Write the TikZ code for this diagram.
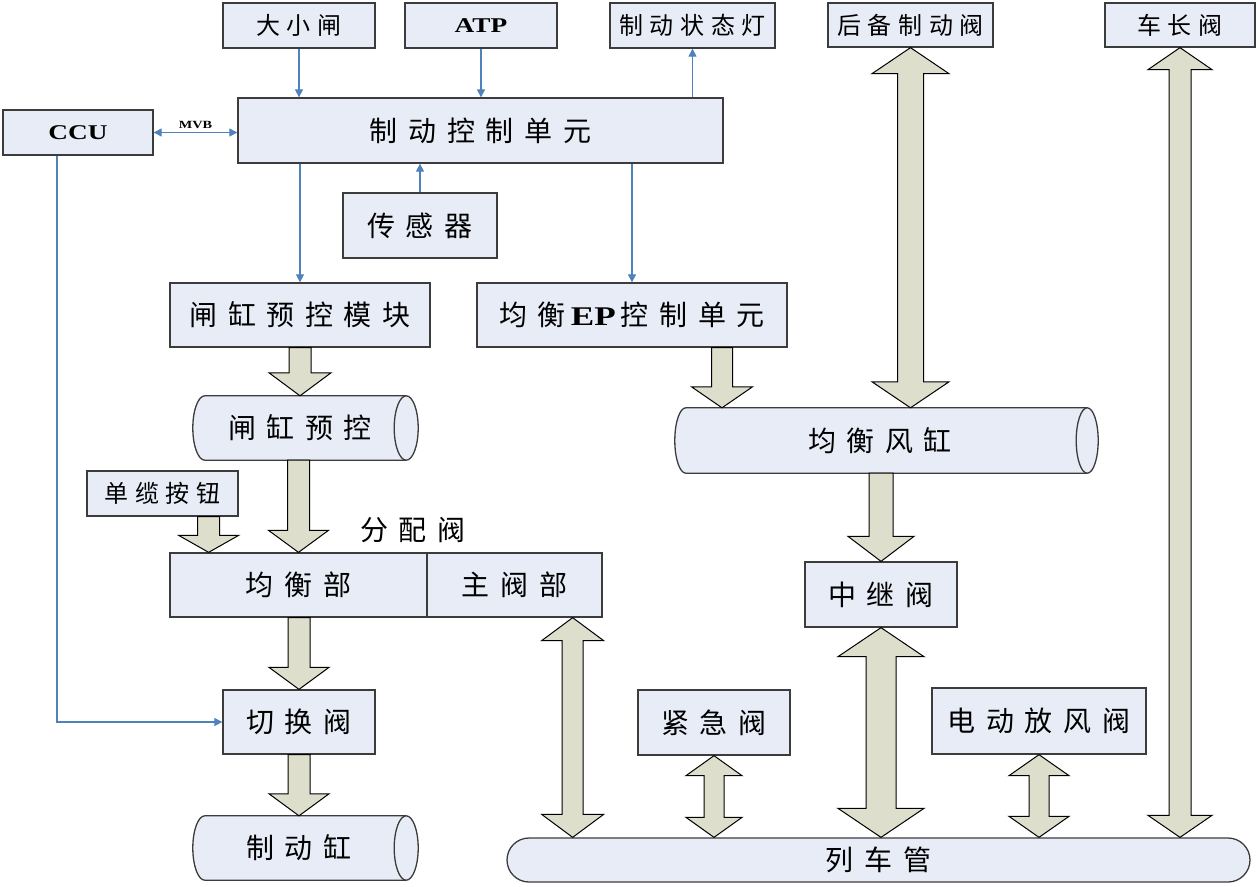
\documentclass[tikz,border=0pt]{standalone}
\usepackage{fontspec}
\usetikzlibrary{arrows.meta,calc}
\newfontfamily\cjkb{Noto Sans CJK SC}[LetterSpace=38]
\newfontfamily\cjks{Noto Sans CJK SC}[LetterSpace=28]
\newfontfamily\lat{Liberation Serif}[FakeStretch=1.3]
\newcommand\bt[1]{{\fontsize{28}{31}\selectfont\cjkb #1\hspace{-10.6pt}}}
\newcommand\st[1]{{\fontsize{24}{27}\selectfont\cjks #1\hspace{-6.7pt}}}
\newcommand\lt[2]{{\fontsize{#1}{#1}\selectfont\lat\bfseries #2}}
\definecolor{boxfill}{RGB}{231,236,246}
\definecolor{boxline}{RGB}{60,60,60}
\definecolor{arrfill}{RGB}{221,222,203}
\definecolor{lineblue}{RGB}{79,129,189}
\newcommand\sarrow[5]{%
\filldraw[blockarrow] let \p1=(#1), \p2=(#2) in
 ({\x2-#3},\y1) -- ({\x2+#3},\y1) -- ({\x2+#3},{\y2+#5}) -- ({\x2+#4},{\y2+#5}) -- (\x2,\y2) -- ({\x2-#4},{\y2+#5}) -- ({\x2-#3},{\y2+#5}) -- cycle;}
\newcommand\darrow[5]{%
\filldraw[blockarrow] let \p1=(#1), \p2=(#2) in
 (\x1,\y1) -- ({\x1+#4},{\y1-#5}) -- ({\x1+#3},{\y1-#5}) -- ({\x1+#3},{\y2+#5}) -- ({\x1+#4},{\y2+#5}) -- (\x1,\y2) -- ({\x1-#4},{\y2+#5}) -- ({\x1-#3},{\y2+#5}) -- ({\x1-#3},{\y1-#5}) -- ({\x1-#4},{\y1-#5}) -- cycle;}
% horizontal cylinder outline round a node: #1 node name, #2 x radius of the ends
\newcommand\cylout[2]{%
\filldraw[cylline] let \p1=(#1.north west), \p2=(#1.south east), \n1={(\y1-\y2)/2} in
 ({\x1+#2},\y1) -- ({\x2-#2},\y1) arc[start angle=90, end angle=-90, x radius=#2, y radius=\n1]
 -- ({\x1+#2},\y2) arc[start angle=270, end angle=90, x radius=#2, y radius=\n1] -- cycle;
\draw[cylline] let \p1=(#1.north west), \p2=(#1.south east), \n1={(\y1-\y2)/2} in
 ({\x2-#2},\y1) arc[start angle=90, end angle=270, x radius=#2, y radius=\n1];}
\begin{document}
\begin{tikzpicture}[x=1pt,y=-1pt,
  box/.style={draw=boxline, fill=boxfill, line width=1.3pt, inner sep=0pt},
  cylnode/.style={inner sep=0pt},
  cylline/.style={draw=boxline, fill=boxfill, line width=1.3pt},
  blockarrow/.style={draw=black, fill=arrfill, line width=1pt, line join=miter},
  conn/.style={draw=lineblue, line width=1.1pt, -{Triangle[length=8pt,width=8pt]}},
  lbl/.style={inner sep=1pt}]
\fill[white] (0,0) rectangle (1260,886);
\useasboundingbox (0,0) rectangle (1260,886);
% cylinders (outline first, text node on top)
\path (305.5,428) node[cylnode, minimum width=225, minimum height=64] (gp) {};
\path (305.5,848) node[cylnode, minimum width=225, minimum height=64] (zdg) {};
\path (886.5,440.5) node[cylnode, minimum width=423, minimum height=65] (jf) {};
\cylout{gp}{12pt}
\cylout{zdg}{12pt}
\cylout{jf}{11pt}
\node at (300,428) {\bt{闸缸预控}};
\node at (299,848) {\bt{制动缸}};
\node at (880,440.5) {\bt{均衡风缸}};
% boxes
\node[box, minimum width=152, minimum height=45] (dxz) at (299,25.5) {\st{大小闸}};
\node[box, minimum width=152, minimum height=45] (atp) at (481,25.5) {\lt{21}{ATP}};
\node[box, minimum width=165, minimum height=45] (zdzt) at (692.5,25.5) {\st{制动状态灯}};
\node[box, minimum width=165, minimum height=44] (hb) at (910.5,25) {\st{后备制动阀}};
\node[box, minimum width=150, minimum height=44] (cz) at (1180,25) {\st{车长阀}};
\node[box, minimum width=150, minimum height=45] (ccu) at (78,132.5) {\lt{21}{CCU}};
\node[box, minimum width=485, minimum height=65] (zk) at (480.5,130.5) {\bt{制动控制单元}};
\node[box, minimum width=154, minimum height=65] (cg) at (420,225.5) {\bt{传感器}};
\node[box, minimum width=260, minimum height=64] (yk) at (300,315) {\bt{闸缸预控模块}};
\node[box, minimum width=310, minimum height=64] (ep) at (632,315) {{\fontsize{28}{31}\selectfont\cjkb 均衡}\hspace{5pt}\lt{27}{EP}{\fontsize{28}{31}\selectfont\cjkb \hspace{5pt}控制单元\hspace{-10.6pt}}};
\node[box, minimum width=151, minimum height=45] (dl) at (162.5,493.5) {\st{单缆按钮}};
\node[lbl] (fpf) at (413,530) {\bt{分配阀}};
\node[box, minimum width=257, minimum height=64] (jb) at (298.5,585) {\bt{均衡部}};
\node[box, minimum width=175, minimum height=64] (zf) at (514.5,585) {\bt{主阀部}};
\node[box, minimum width=152, minimum height=64] (qh) at (299,722) {\bt{切换阀}};
\node[box, minimum width=152, minimum height=65] (zj) at (881,594.5) {\bt{中继阀}};
\node[box, minimum width=152, minimum height=65] (jj) at (714,722.5) {\bt{紧急阀}};
\node[box, minimum width=214, minimum height=66] (df) at (1039,721) {\bt{电动放风阀}};
\node[box, rounded corners=22pt, minimum width=743, minimum height=44] (lc) at (878.5,860) {\bt{列车管}};
% helper coordinates
\coordinate (dla) at ($(dl.south east)+(-30,0)$);
\coordinate (epa) at ($(ep.south)+(90,0)$);
\coordinate (zfa) at ($(zf.south east)+(-30,0)$);
% block arrows
\sarrow{yk.south}{yk.south |- gp.north}{11pt}{31pt}{23pt}
\sarrow{jb.north |- gp.south}{jb.north}{11pt}{30pt}{22pt}
\sarrow{dla}{dla |- jb.north}{11pt}{30pt}{17pt}
\sarrow{qh.north |- jb.south}{qh.north}{11pt}{30pt}{22pt}
\sarrow{qh.south}{qh.south |- zdg.north}{11pt}{30pt}{22pt}
\sarrow{epa}{epa |- jf.north}{10.5pt}{30.5pt}{21pt}
\sarrow{zj.north |- jf.south}{zj.north}{12pt}{33pt}{25pt}
\darrow{hb.south}{hb.south |- jf.north}{13pt}{38.5pt}{26pt}
\darrow{cz.south}{cz.south |- lc.north}{11pt}{32pt}{22pt}
\darrow{zfa}{zfa |- lc.north}{10.5pt}{31pt}{23pt}
\darrow{zj.south}{zj.south |- lc.north}{15pt}{43pt}{29pt}
\darrow{jj.south}{jj.south |- lc.north}{10pt}{28pt}{20pt}
\darrow{df.south}{df.south |- lc.north}{10pt}{30pt}{21pt}
% thin connectors
\draw[conn] (dxz.south) -- (dxz.south |- zk.north);
\draw[conn] (atp.south) -- (atp.south |- zk.north);
\draw[conn] (zdzt.south |- zk.north) -- (zdzt.south);
\draw[conn, {Triangle[length=8pt,width=8pt]}-{Triangle[length=8pt,width=8pt]}] (ccu.east) -- (ccu.east -| zk.west) node[midway, above, inner sep=3pt] {\lt{11}{MVB}};
\draw[conn] (yk.north |- zk.south) -- (yk.north);
\draw[conn] (ep.north |- zk.south) -- (ep.north);
\draw[conn] (cg.north) -- (cg.north |- zk.south);
\draw[conn] ([xshift=-21pt]ccu.south) |- (qh.west);
\end{tikzpicture}
\end{document}
